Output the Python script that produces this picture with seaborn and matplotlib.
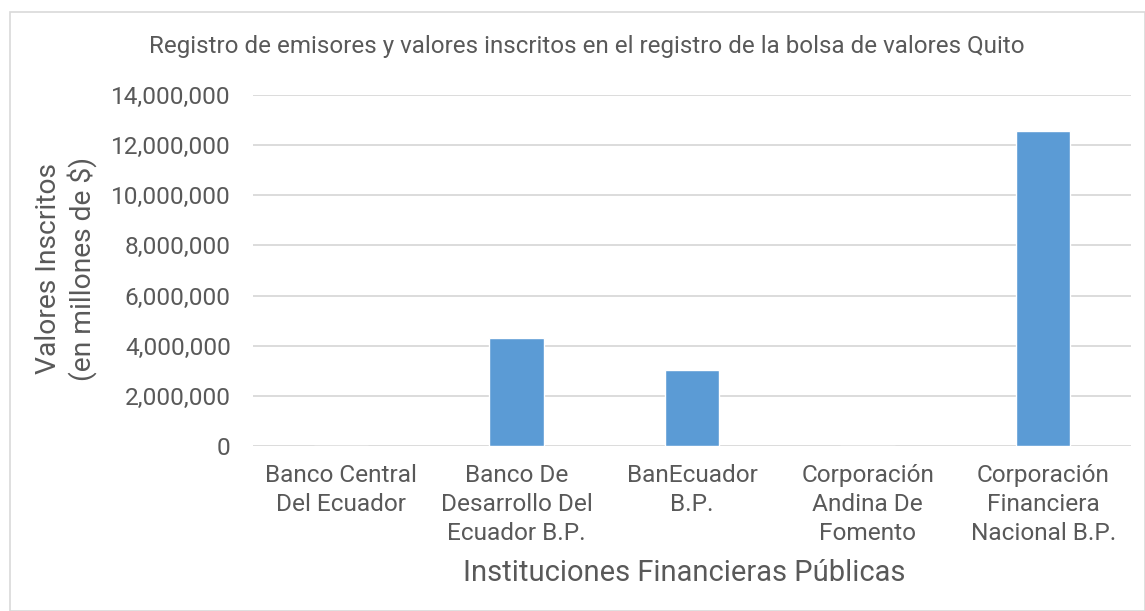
import matplotlib
matplotlib.use("Agg")
import matplotlib.pyplot as plt
import seaborn as sns
import pandas as pd
from matplotlib.patches import Rectangle
from matplotlib.ticker import FuncFormatter

# Data
instituciones = [
    "Banco Central\nDel Ecuador",
    "Banco De\nDesarrollo Del\nEcuador B.P.",
    "BanEcuador\nB.P.",
    "Corporación\nAndina De\nFomento",
    "Corporación\nFinanciera\nNacional B.P.",
]
valores = [0, 4320000, 3030000, 0, 12560000]

df = pd.DataFrame({"institucion": instituciones, "valor": valores})

sns.set_theme(style="white")
plt.rcParams["font.family"] = ["Roboto", "DejaVu Sans"]
text_color = "#595959"

fig = plt.figure(figsize=(11.45, 6.11), dpi=100)
ax = fig.add_axes([253 / 1145, 1 - 446 / 611, (1131 - 253) / 1145, (446 - 95) / 611])

sns.barplot(data=df, x="institucion", y="valor", color="#5B9BD5", width=0.31,
            saturation=1, ax=ax)

ax.set_ylim(0, 14000000)
ax.set_yticks(range(0, 14000001, 2000000))
ax.yaxis.set_major_formatter(FuncFormatter(lambda v, p: f"{int(v):,}"))
ax.grid(axis="y", color="#D9D9D9", linewidth=1.3)
ax.set_axisbelow(True)
for s in ax.spines.values():
    s.set_visible(False)
ax.tick_params(axis="y", length=0, labelsize=17.6, colors=text_color, pad=16)
ax.tick_params(axis="x", length=0, labelsize=17.6, colors=text_color, pad=13)
for lbl in ax.get_xticklabels():
    lbl.set_linespacing(1.32)

ax.set_xlabel("")
ax.set_ylabel("")
fig.text(684 / 1145, 1 - 573 / 611, "Instituciones Financieras Públicas",
         ha="center", va="center", fontsize=21, color=text_color)
fig.text(66 / 1145, 1 - 269 / 611, "Valores Inscritos\n(en millones de $)",
         ha="center", va="center", rotation=90, fontsize=20.3, color=text_color)
fig.text(587 / 1145, 1 - 47 / 611, "Registro de emisores y valores inscritos en el registro de la bolsa de valores Quito",
         ha="center", va="center", fontsize=17.4, color=text_color)

fig.patches.append(Rectangle((10 / 1145, 0), 1 - 10 / 1145, 1 - 12 / 611, transform=fig.transFigure,
                             fill=False, edgecolor="#D9D9D9", linewidth=1.2))

fig.savefig("out.png", dpi=100)
